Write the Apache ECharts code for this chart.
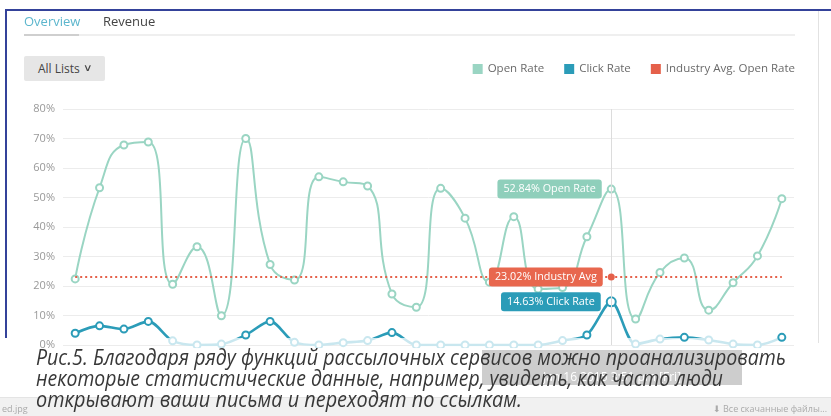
<!DOCTYPE html>
<html>
<head>
<meta charset="utf-8">
<script src="https://cdn.jsdelivr.net/npm/echarts@6/dist/echarts.min.js"></script>
<style>
  html, body { margin:0; padding:0; width:831px; height:416px; overflow:hidden; background:#fff; font-family:"Open Sans", "Noto Sans", sans-serif; }
  #chart { position:absolute; left:0; top:0; width:831px; height:416px; z-index:1; }
  .ov { position:absolute; z-index:2; }
  #topline { left:6px; top:9px; width:825px; height:2px; background:#34429a; }
  #leftline { left:5px; top:9px; width:2px; height:329px; background:#34429a; }
  #rightline { left:818px; top:11px; width:1px; height:332px; background:#e2e2e2; }
  #tabline { left:24px; top:34px; width:771px; height:2px; background:#efefef; }
  #tabsel { left:24px; top:34px; width:55px; height:2px; background:#cfcfcf; }
  #tab1 { left:24px; top:12px; font-size:13px; color:#5cb6cd; }
  #tab2 { left:103px; top:12px; font-size:13px; color:#444; }
  #btn { left:24px; top:56px; width:81px; height:25px; background:#e6e6e6; border-radius:2px; font-size:12px; color:#444; line-height:25px; }
  #btn span.t { position:absolute; left:14px; }
  #btn span.c { position:absolute; left:60px; top:-1px; font-size:10px; transform:scaleX(1.3); }
  #panel { left:0; top:348px; width:831px; height:68px; background:rgba(255,255,255,0.94); }
  #tip { left:482px; top:350px; width:260px; height:35px; background:rgba(200,200,200,0.9); color:#fff; font-size:12px; text-align:center; }
  #tip .d { position:absolute; left:0; right:0; top:18px; }
  #bar { left:0; top:397px; width:831px; height:19px; background:#f1f1f1; border-top:1px solid #e4e4e4; overflow:hidden; }
  #bar .l { position:absolute; left:2px; top:4px; font-size:9px; color:#aaa; }
  #bar .r { position:absolute; right:4px; top:4px; font-size:9px; color:#aaa; white-space:nowrap; }
  #caption { left:36px; top:346px; font-size:22px; line-height:21px; font-style:italic; color:#383838; }
  #caption .row { height:21px; white-space:nowrap; }
  #caption .ln { display:inline-block; white-space:nowrap; transform-origin:0 0; }
</style>
</head>
<body>
<div id="chart"></div>
<div class="ov" id="topline"></div>
<div class="ov" id="leftline"></div>
<div class="ov" id="rightline"></div>
<div class="ov" id="tabline"></div>
<div class="ov" id="tabsel"></div>
<div class="ov" id="tab1">Overview</div>
<div class="ov" id="tab2">Revenue</div>
<div class="ov" id="btn"><span class="t">All Lists</span><span class="c">&#8744;</span></div>
<div class="ov" id="panel"></div>
<div class="ov" id="tip"><span class="d">Jan 16,2015 3:51 pm [Fri]</span></div>
<div class="ov" id="bar"><span class="l">ed.jpg</span><span class="r">&#11015; Все скачанные файлы...</span></div>
<div class="ov" id="caption">
  <div class="row"><span class="ln" data-w="750">Рис.5. Благодаря ряду функций рассылочных сервисов можно проанализировать</span></div>
  <div class="row"><span class="ln" data-w="687">некоторые статистические данные, например, увидеть, как часто люди</span></div>
  <div class="row"><span class="ln" data-w="486">открывают ваши письма и переходят по ссылкам.</span></div>
</div>
<script>
function fitCaption() {
  document.querySelectorAll('#caption .ln').forEach(el => {
    el.style.transform = 'none';
    const w = el.getBoundingClientRect().width;
    const target = +el.getAttribute('data-w');
    if (w > 0) el.style.transform = 'scaleX(' + (target / w) + ')';
  });
}
fitCaption();
window.addEventListener('load', fitCaption);
</script>
<script>
const categories = ['Dec 25','Dec 26','Dec 27','Dec 28','Dec 29','Dec 30','Dec 31','Jan 1','Jan 2','Jan 3',
  'Jan 4','Jan 5','Jan 6','Jan 7','Jan 8','Jan 9','Jan 10','Jan 11','Jan 12','Jan 13',
  'Jan 14','Jan 15','Jan 16','Jan 17','Jan 18','Jan 19','Jan 20','Jan 21','Jan 22','Jan 23'];
const openRate = [22.4,53.3,67.8,68.8,20.6,33.3,9.9,70.0,27.3,22.0,57.0,55.3,53.9,17.3,12.8,53.1,43.0,21.3,43.5,19.0,19.5,36.7,52.84,8.8,24.6,29.5,11.8,21.1,30.2,49.6];
const clickRate = [4.0,6.5,5.4,8.0,1.4,0,0.3,3.4,8.0,0.9,0,0.8,1.5,4.2,0,0,0,0,0,0,1.5,3.4,14.63,0.3,2.0,2.6,1.7,0.3,0,2.6];
const industryAvg = [23.02,23.02,23.02,23.02,23.02,23.02,23.02,23.02,23.02,23.02,23.02,23.02,23.02,23.02,23.02,23.02,23.02,23.02,23.02,23.02,23.02,23.02,23.02,23.02,23.02,23.02,23.02,23.02,23.02,23.02];
const yTicks = [0,10,20,30,40,50,60,70,80];
const hoverIndex = 22;
const clickThreshold = 2.5;

const C_OPEN = '#9ad5c3', C_OPEN_LBL = '#8fcfbb';
const C_CLICK = '#2b9cb8', C_CLICK_LIGHT = '#c9e7ef';
const C_IND = '#e5604a', C_IND_LBL = '#e8674e';
const FONT = '"Open Sans", "Noto Sans", sans-serif';

function lbl(bg, fmt) {
  return { show:true, position:'left', distance:5, formatter:fmt, backgroundColor:bg, color:'#fff',
    padding:[4,6,4,6], borderRadius:3, fontSize:10.8, fontFamily:FONT };
}

const openData = openRate.map((v,i) => i === hoverIndex ? { value:v, label:lbl(C_OPEN_LBL,'{c}% Open Rate') } : v);
const clickData = clickRate.map((v,i) => i === hoverIndex ? { value:v, symbolSize:9, label:lbl(C_CLICK,'{c}% Click Rate') } : v);
const indData = industryAvg.map((v,i) => i === hoverIndex ? { value:v, symbol:'circle', symbolSize:7, label:lbl(C_IND_LBL,'{c}% Industry Avg') } : v);

const chart = echarts.init(document.getElementById('chart'), null, { renderer:'canvas' });
chart.setOption({
  animation:false,
  textStyle:{ fontFamily:FONT },
  legend:{
    right:31, top:58, icon:'rect', itemWidth:10, itemHeight:10, itemGap:20,
    textStyle:{ fontSize:11.5, color:'#6a6a6a', fontFamily:FONT },
    data:[
      { name:'Open Rate', itemStyle:{ color:C_OPEN } },
      { name:'Click Rate', itemStyle:{ color:C_CLICK } },
      { name:'Industry Avg. Open Rate', itemStyle:{ color:C_IND } }
    ]
  },
  grid:{ left:63, right:37, top:109, bottom:71, containLabel:false },
  xAxis:{
    type:'category', data:categories, boundaryGap:true,
    axisLine:{ show:false }, axisTick:{ show:false }, axisLabel:{ show:false }
  },
  yAxis:{
    type:'value', min:yTicks[0], max:yTicks[yTicks.length-1], interval:10,
    axisLine:{ show:false }, axisTick:{ show:false },
    axisLabel:{ formatter:'{value}%', color:'#999', fontSize:11, margin:8, fontFamily:FONT },
    splitLine:{ lineStyle:{ color:'#ececec', width:1 } }
  },
  visualMap:{
    show:false, seriesIndex:1, type:'piecewise', dimension:1,
    pieces:[ { min:0, max:clickThreshold, color:C_CLICK_LIGHT }, { min:clickThreshold, max:100, color:C_CLICK } ],
    outOfRange:{ color:C_CLICK_LIGHT }
  },
  series:[
    {
      name:'Open Rate', type:'line', data:openData, smooth:0.5,
      symbol:'emptyCircle', symbolSize:7, showAllSymbol:true,
      itemStyle:{ color:C_OPEN, borderWidth:1.6 },
      lineStyle:{ color:C_OPEN, width:2 },
      markLine:{
        silent:true, symbol:['none','none'], label:{ show:false },
        lineStyle:{ color:'#dcdcdc', width:1, type:'solid' },
        data:[ { xAxis:hoverIndex } ]
      },
      z:3
    },
    {
      name:'Click Rate', type:'line', data:clickData, smooth:0.3,
      symbol:'emptyCircle', symbolSize:7, showAllSymbol:true,
      itemStyle:{ color:C_CLICK, borderWidth:1.6 },
      lineStyle:{ width:2.6 },
      z:4
    },
    {
      name:'Industry Avg. Open Rate', type:'line', data:indData,
      symbol:'none', itemStyle:{ color:C_IND },
      lineStyle:{ color:C_IND, width:2, type:[2,3] },
      z:5
    }
  ]
});
</script>
</body>
</html>
